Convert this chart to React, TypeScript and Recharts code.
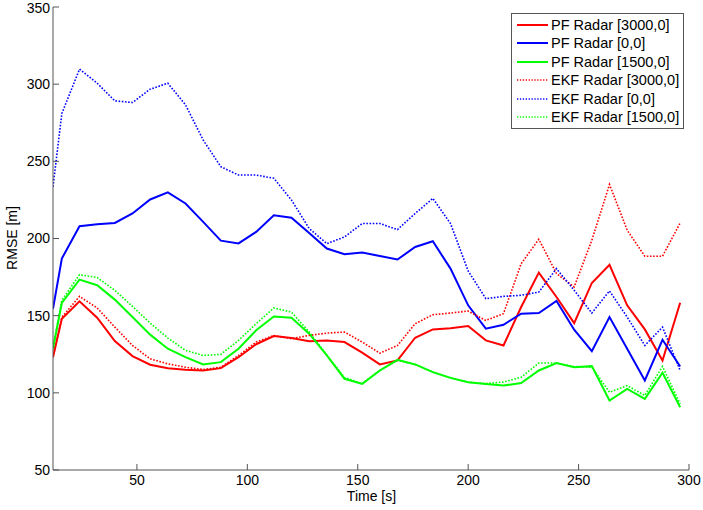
import React from 'react';
import { LineChart, Line, XAxis, YAxis, Legend, Label } from 'recharts';

// time stamps [s]
const times = [12, 16, 24, 32, 40, 48, 56, 64, 72, 80, 88, 96, 104, 112, 120, 128, 136, 144, 152,
  160, 168, 176, 184, 192, 200, 208, 216, 224, 232, 240, 248, 256, 264, 272, 280, 288, 296];

// RMSE [m] per filter / radar position
const pf3000 = [123.1, 148, 159.3, 148.7, 133.5, 123.8, 118.2, 116, 115, 114.5, 116, 123.1, 131.5, 136.8,
  135.5, 133.5, 133.9, 132.9, 126, 118.4, 121, 135.7, 141.1, 141.9, 143.3, 134, 130.7, 155.6, 177.9,
  162.1, 145.2, 171.2, 183, 156.7, 141.1, 121, 158.4];
const pf0 = [154.5, 187, 208, 209.3, 210.1, 216.2, 225.3, 229.9, 222.7, 210.8, 198.6, 196.8, 204.3, 215,
  213.4, 203.6, 193.5, 189.8, 190.9, 188.7, 186.4, 194.5, 198.2, 180.5, 156.7, 141.6, 144.1, 151.3,
  151.7, 159.5, 140.9, 127, 149.1, 128.6, 108, 134.4, 117.1];
const pf1500 = [128.6, 158.2, 173.4, 169.7, 160.4, 149.1, 137.7, 128.6, 123.1, 118.4, 119.9, 128.6, 140.5,
  149.5, 148.7, 138.3, 124.2, 109.1, 105.8, 114.5, 121.4, 118.4, 113.4, 109.7, 106.9, 105.8, 104.7,
  106.4, 114.5, 119.3, 116.6, 117.3, 95, 102.6, 96.1, 113, 90.7];
const ekf3000 = [123, 149, 162.5, 155, 142.6, 130.7, 122, 118.8, 116.6, 115.1, 116.6, 124.2, 132.9, 137.2,
  135.1, 137.2, 138.7, 139.4, 132.9, 125.7, 130.7, 144.8, 150.6, 151.7, 153, 146.9, 151.3, 183.7, 199.5,
  177.3, 168.6, 198.9, 235, 205.4, 188.5, 188.5, 210.1];
const ekf0 = [233.5, 281, 309.7, 300.6, 289.2, 288.1, 296.8, 300.6, 286.6, 263.8, 246.5, 241.1, 241.1, 239,
  224.9, 206.5, 196.7, 201, 209.7, 209.7, 205.8, 216.2, 226, 209.7, 179, 161, 162.5, 163.2, 165.3,
  180.5, 166.4, 151.7, 166, 149.1, 130.7, 142.6, 114.5];
const ekf1500 = [130, 159.9, 176.6, 174.7, 166.4, 156, 145.2, 135.5, 127.5, 124.2, 124.9, 134, 144.8, 155,
  152.3, 139.4, 124.5, 110, 106, 114.5, 121, 118.4, 113.4, 109.7, 106.9, 106, 107, 110.1, 119.3, 119.3,
  117, 116.6, 100.4, 104.7, 98.3, 117.1, 92.8];

const xTicks = [50, 100, 150, 200, 250, 300];
const yTicks = [50, 100, 150, 200, 250, 300, 350];

const series = [
  { key: 'pf3000', name: 'PF Radar [3000,0]', color: '#ff0000', dotted: false },
  { key: 'pf0', name: 'PF Radar [0,0]', color: '#0000ff', dotted: false },
  { key: 'pf1500', name: 'PF Radar [1500,0]', color: '#00ff00', dotted: false },
  { key: 'ekf3000', name: 'EKF Radar [3000,0]', color: '#ff0000', dotted: true },
  { key: 'ekf0', name: 'EKF Radar [0,0]', color: '#0000ff', dotted: true },
  { key: 'ekf1500', name: 'EKF Radar [1500,0]', color: '#00ff00', dotted: true },
];

const data = times.map((t, i) => ({
  t,
  pf3000: pf3000[i],
  pf0: pf0[i],
  pf1500: pf1500[i],
  ekf3000: ekf3000[i],
  ekf0: ekf0[i],
  ekf1500: ekf1500[i],
}));

const FONT = '"Liberation Sans", Arial, sans-serif';
const AXIS = '#555555';
const tickStyle = { fill: '#000', fontSize: 14, fontFamily: FONT };

// MATLAB style boxed legend
const LegendBox = () => (
  <div
    style={{
      border: `1px solid ${AXIS}`,
      background: '#fff',
      padding: '1.5px 0',
      width: 173,
      fontFamily: FONT,
      fontSize: 14.5,
      boxSizing: 'border-box',
    }}
  >
    {series.map((s) => (
      <div key={s.key} style={{ display: 'flex', alignItems: 'center', height: 18.5 }}>
        <svg width={39} height={10} style={{ flex: 'none' }}>
          <line
            x1={5}
            x2={36}
            y1={5}
            y2={5}
            stroke={s.color}
            strokeWidth={s.dotted ? 1.3 : 2}
            strokeDasharray={s.dotted ? '1.3 1.6' : undefined}
          />
        </svg>
        <span style={{ whiteSpace: 'nowrap' }}>{s.name}</span>
      </div>
    ))}
  </div>
);

const App: React.FC = () => (
  <div style={{ position: 'absolute', left: 0, top: 0, width: 703, height: 510, background: '#fff' }}>
    <LineChart width={703} height={510} data={data} margin={{ top: 7, right: 14, left: 8, bottom: 0 }}>
      <XAxis
        dataKey="t"
        type="number"
        domain={[12, 300]}
        ticks={xTicks}
        allowDataOverflow
        height={40}
        stroke={AXIS}
        tickSize={-6}
        tickMargin={11}
        tick={tickStyle}
      >
        <Label
          content={() => (
            <text x={371.5} y={501} textAnchor="middle" fontSize={14} fontFamily={FONT} fill="#000">
              Time [s]
            </text>
          )}
        />
      </XAxis>
      <XAxis
        xAxisId="top"
        orientation="top"
        type="number"
        domain={[12, 300]}
        ticks={xTicks}
        allowDataOverflow
        height={0}
        stroke={AXIS}
        tickSize={-6}
        tick={false}
      />
      <YAxis
        type="number"
        domain={[50, 350]}
        ticks={yTicks}
        allowDataOverflow
        width={45}
        stroke={AXIS}
        tickSize={-6}
        tickMargin={9}
        tick={tickStyle}
      >
        <Label
          content={() => (
            <text
              x={17}
              y={238}
              transform="rotate(-90 17 238)"
              textAnchor="middle"
              fontSize={14}
              fontFamily={FONT}
              fill="#000"
            >
              RMSE [m]
            </text>
          )}
        />
      </YAxis>
      <YAxis
        yAxisId="right"
        orientation="right"
        type="number"
        domain={[50, 350]}
        ticks={yTicks}
        allowDataOverflow
        width={0}
        stroke={AXIS}
        tickSize={-6}
        tick={false}
      />
      <Legend
        layout="vertical"
        align="center"
        verticalAlign="middle"
        content={<LegendBox />}
        wrapperStyle={{ top: 13, left: 511, width: 173 }}
      />
      {series.map((s) => (
        <Line
          key={s.key}
          type="linear"
          dataKey={s.key}
          name={s.name}
          stroke={s.color}
          strokeWidth={s.dotted ? 1.6 : 2}
          strokeDasharray={s.dotted ? '1.6 1.6' : undefined}
          dot={false}
          activeDot={false}
          isAnimationActive={false}
        />
      ))}
    </LineChart>
  </div>
);

export default App;
